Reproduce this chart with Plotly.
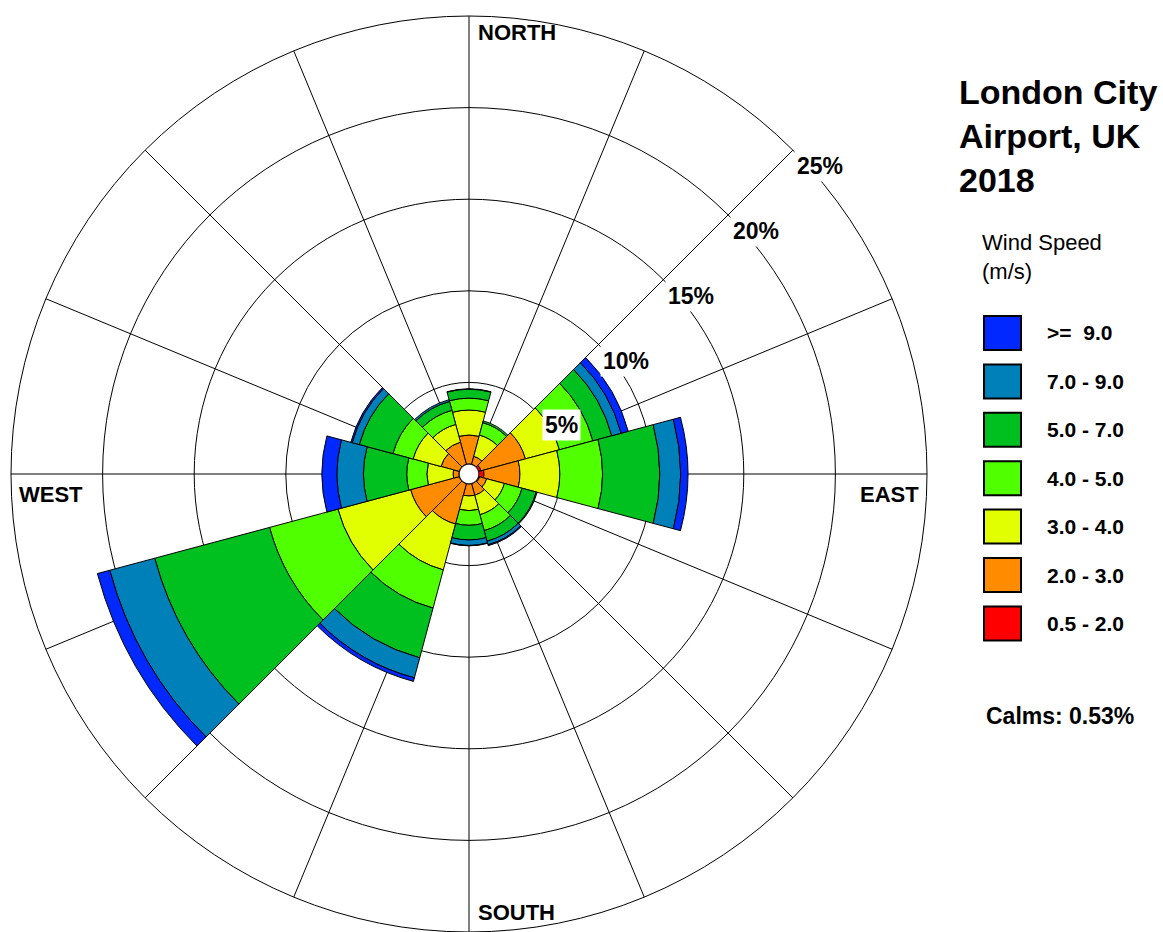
import plotly.graph_objects as go
import numpy as np

# ---------------- data ----------------
directions = [0, 30, 60, 90, 120, 150, 180, 210, 240, 270, 300, 330]
speed_labels = ["0.5 - 2.0", "2.0 - 3.0", "3.0 - 4.0", "4.0 - 5.0", "5.0 - 7.0", "7.0 - 9.0", ">=  9.0"]
speed_colors = ["#FF0000", "#FF8C00", "#E1FF00", "#50FF00", "#00C020", "#0080B8", "#0028FF"]
calms = 0.53

# frequency (%) per direction for each speed class
f_05_2 = [0.02, 0.02, 0.15, 0.29, 0.07, 0.02, 0.02, 0.02, 0.02, 0.02, 0.02, 0.02]
f_2_3 = [1.58, 0.45, 2.51, 1.96, 0.40, 0.65, 0.65, 2.28, 2.75, 0.32, 1.03, 1.25]
f_3_4 = [1.36, 1.20, 1.92, 2.18, 1.00, 1.10, 0.80, 2.59, 4.11, 1.43, 1.58, 1.00]
f_4_5 = [0.65, 0.70, 1.89, 2.33, 1.00, 0.90, 0.80, 2.16, 3.86, 1.10, 1.14, 0.80]
f_5_7 = [0.49, 0.10, 1.07, 3.12, 0.80, 0.60, 0.80, 2.81, 6.49, 2.36, 1.90, 0.50]
f_7_9 = [0.02, 0.00, 0.53, 1.14, 0.05, 0.20, 0.30, 1.13, 2.54, 1.45, 0.40, 0.10]
f_9 = [0.00, 0.00, 0.40, 0.40, 0.00, 0.05, 0.02, 0.20, 0.70, 0.82, 0.08, 0.00]

ring_vals = [5, 10, 15, 20, 25]
ring_text = ["5%", "10%", "15%", "20%", "25%"]
title_lines = ["London City", "Airport, UK", "2018"]

series = [f_05_2, f_2_3, f_3_4, f_4_5, f_5_7, f_7_9, f_9]

# ---------------- figure ----------------
W, H = 1163, 932
dom_x = [10 / W, 928 / W]
dom_y = [0, 916 / H]
r_max = 25

fig = go.Figure()

base = np.full(len(directions), calms)
for vals, name, col in zip(series, speed_labels, speed_colors):
    v = np.array(vals, dtype=float)
    fig.add_trace(go.Barpolar(
        r=v, theta=directions, base=base.copy(), width=[30] * len(directions),
        name=name, marker=dict(color=col, line=dict(color="black", width=1)),
        showlegend=False,
    ))
    base = base + v

# calms circle
th = np.linspace(0, 360, 181)
fig.add_trace(go.Scatterpolar(r=np.full_like(th, calms), theta=th, mode="lines",
                              fill="toself", fillcolor="white",
                              line=dict(color="black", width=1), showlegend=False,
                              hoverinfo="skip"))

fig.update_layout(
    width=W, height=H, margin=dict(l=0, r=0, t=0, b=0),
    paper_bgcolor="white", plot_bgcolor="white",
    font=dict(family="Liberation Sans, Arial, sans-serif", color="black"),
    polar=dict(
        domain=dict(x=dom_x, y=dom_y),
        bgcolor="white", barmode="overlay", hole=0,
        angularaxis=dict(rotation=90, direction="clockwise", dtick=22.5,
                         showticklabels=False, ticks="", showgrid=True,
                         gridcolor="black", gridwidth=1, showline=True,
                         linecolor="black", linewidth=1),
        radialaxis=dict(range=[0, r_max], tickvals=ring_vals, showticklabels=False,
                        angle=45, showline=False, ticks="",
                        showgrid=True, gridcolor="black", gridwidth=1),
    ),
)

# polar geometry in pixels (for label placement)
pw = (dom_x[1] - dom_x[0]) * W
ph = (dom_y[1] - dom_y[0]) * H
R = min(pw, ph) / 2
cx = (dom_x[0] + dom_x[1]) / 2 * W
cy = H - (dom_y[0] + dom_y[1]) / 2 * H  # from top

ann = []
# ring labels, placed beside the NE spoke
for val, txt in zip(ring_vals, ring_text):
    rp = val / r_max * R + 8
    a = np.radians(45)
    x = cx + rp * np.sin(a) + 31 * np.cos(a)
    y = cy - rp * np.cos(a) + 31 * np.sin(a)
    ann.append(dict(text="<b>" + txt + "</b>", x=x / W, y=1 - y / H, xref="paper", yref="paper",
                    xanchor="center", yanchor="middle", showarrow=False, font=dict(size=23),
                    bgcolor="white", borderpad=2))
# compass labels
for txt, x, y in [("NORTH", 476, 33), ("SOUTH", 476, 912), ("WEST", 17, 494), ("EAST", 858, 494)]:
    ann.append(dict(text="<b>" + txt + "</b>", x=x / W, y=1 - y / H, xref="paper", yref="paper",
                    xanchor="left", yanchor="middle", showarrow=False, font=dict(size=22)))
# title
ann.append(dict(text="<b>" + "<br>".join(title_lines) + "</b>", x=957 / W, y=1 - 71 / H,
                xref="paper", yref="paper", xanchor="left", yanchor="top", align="left",
                showarrow=False, font=dict(size=34)))
ann.append(dict(text="Wind Speed<br>(m/s)", x=980 / W, y=1 - 228 / H, xref="paper", yref="paper",
                xanchor="left", yanchor="top", align="left", showarrow=False, font=dict(size=22)))
# legend
shapes = []
for i, (lab, col) in enumerate(zip(speed_labels[::-1], speed_colors[::-1])):
    top = 316 + i * 48.4
    shapes.append(dict(type="rect", xref="paper", yref="paper",
                       x0=984 / W, x1=1021 / W, y0=1 - (top + 34) / H, y1=1 - top / H,
                       fillcolor=col, line=dict(color="black", width=2)))
    ann.append(dict(text="<b>" + lab + "</b>", x=1045 / W, y=1 - (top + 17) / H,
                    xref="paper", yref="paper", xanchor="left", yanchor="middle",
                    showarrow=False, font=dict(size=21)))
ann.append(dict(text="<b>Calms: %.2f%%</b>" % calms, x=984 / W, y=1 - 716 / H, xref="paper",
                yref="paper", xanchor="left", yanchor="middle", showarrow=False,
                font=dict(size=23)))
fig.update_layout(annotations=ann, shapes=shapes)

fig.write_html("out.html")
